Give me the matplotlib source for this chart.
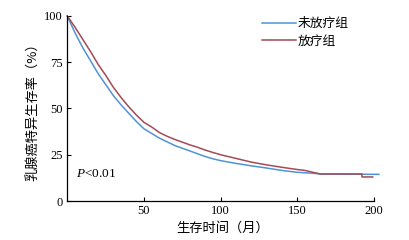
import matplotlib
matplotlib.use("Agg")
import matplotlib.pyplot as plt

plt.rcParams['font.family'] = ['Liberation Serif', 'Noto Sans CJK SC', 'DejaVu Sans']
plt.rcParams['mathtext.fontset'] = 'custom'
plt.rcParams['mathtext.it'] = 'Liberation Serif:italic'
plt.rcParams['mathtext.rm'] = 'Liberation Serif'

months_a = [0, 5, 10, 15, 20, 25, 30, 35, 40, 45, 50, 55, 60, 65, 70, 75, 80, 85, 90, 95,
            100, 110, 120, 130, 140, 150, 160, 165, 203]
surv_a = [100, 91, 83, 76, 69, 63, 57, 52, 47.5, 43, 39, 36.5, 34, 32, 30, 28.5, 27, 25.5, 24, 22.8,
          21.8, 20.3, 19, 17.8, 16.5, 15.5, 15, 14.6, 14.4]

months_b = [0, 5, 10, 15, 20, 25, 30, 35, 40, 45, 50, 55, 60, 65, 70, 75, 80, 85, 90, 95,
            100, 110, 120, 130, 140, 150, 155, 160, 165, 192, 192, 199]
surv_b = [100, 94, 87.5, 81, 74, 68, 61.5, 56, 51, 46.5, 42.5, 40, 37, 35, 33.3, 31.8, 30.3, 29, 27.5, 26.2,
          25, 23, 21, 19.5, 18.2, 17, 16.5, 15.5, 14.6, 14.6, 13, 13]

labels = ['未放疗组', '放疗组']
colors = ['#4f93d6', '#a34a55']
xticks = [50, 100, 150, 200]
yticks = [0, 25, 50, 75, 100]

fig = plt.figure(figsize=(4.1, 2.4), dpi=100)
ax = fig.add_axes([0.164, 0.1625, 0.76, 0.771])
ax.plot(months_a, surv_a, color=colors[0], lw=1.1, label=labels[0], clip_on=False)
ax.plot(months_b, surv_b, color=colors[1], lw=1.1, label=labels[1], clip_on=False)

ax.set_xlim(0, 203)
ax.set_ylim(0, 100)
ax.spines['top'].set_visible(False)
ax.spines['right'].set_visible(False)
ax.spines['bottom'].set_bounds(0, 200)
ax.set_xticks(xticks)
ax.set_yticks(yticks)
ax.tick_params(direction='in', length=3, width=0.8, labelsize=9, pad=3)
for s in ['left', 'bottom']:
    ax.spines[s].set_linewidth(0.9)

ax.set_xlabel('生存时间（月）', fontsize=9.5, family=['Noto Sans CJK SC'], labelpad=3)
ax.set_ylabel('乳腺癌特异生存率（%）', fontsize=9.5, family=['Noto Sans CJK SC'], labelpad=3)

ax.text(6, 14.5, r'$\mathit{P}$<0.01', fontsize=9.5, va='center', ha='left')

leg = ax.legend(loc='upper left', bbox_to_anchor=(0.625, 0.994), frameon=False,
                prop={'family': ['Noto Sans CJK SC'], 'size': 9.2},
                handlelength=2.7, handletextpad=0.1, labelspacing=0.36,
                borderpad=0, borderaxespad=0)

fig.savefig('out.png', dpi=100)
